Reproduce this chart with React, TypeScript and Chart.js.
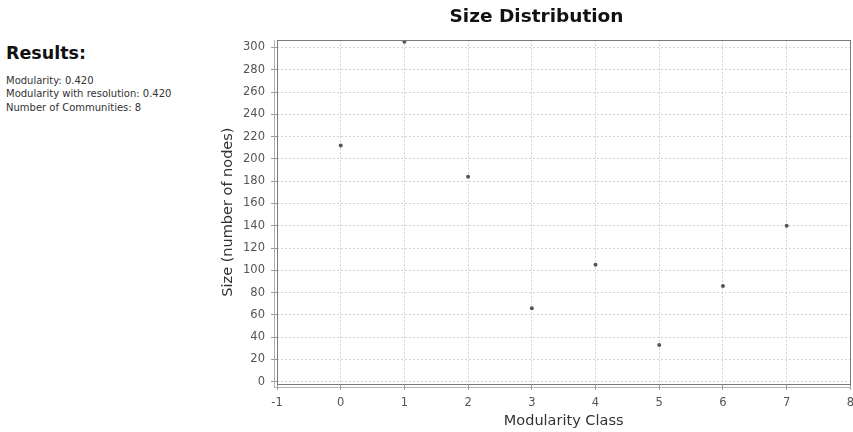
import React, { useEffect, useRef } from "react";
import { Chart, registerables } from "chart.js";

Chart.register(...registerables);

const modularityClasses = [0, 1, 2, 3, 4, 5, 6, 7];
const communitySizes = [212, 305, 184, 66, 105, 33, 86, 140];
const xTickValues = [-1, 0, 1, 2, 3, 4, 5, 6, 7, 8];
const yTickValues = [0, 20, 40, 60, 80, 100, 120, 140, 160, 180, 200, 220, 240, 260, 280, 300];
const resultLines = [
  "Modularity: 0.420",
  "Modularity with resolution: 0.420",
  "Number of Communities: 8",
];

const framePlugin = {
  id: "frame",
  afterDraw(chart: any) {
    const { ctx, chartArea } = chart;
    const { left, right, top, bottom } = chartArea;
    ctx.save();
    ctx.lineWidth = 1;
    ctx.strokeStyle = "#7a7a7a";
    ctx.strokeRect(Math.round(left) + 0.5, Math.round(top) + 0.5, Math.round(right - left), Math.round(bottom - top));
    ctx.strokeStyle = "#b0b0b0";
    ctx.beginPath();
    ctx.moveTo(Math.round(left) - 2.5, Math.round(top));
    ctx.lineTo(Math.round(left) - 2.5, Math.round(bottom) + 3);
    ctx.moveTo(Math.round(left) - 3, Math.round(bottom) + 3.5);
    ctx.lineTo(Math.round(right) + 1, Math.round(bottom) + 3.5);
    ctx.stroke();
    ctx.restore();
  },
};

export default function App() {
  const canvasRef = useRef<HTMLCanvasElement | null>(null);

  useEffect(() => {
    if (!canvasRef.current) return;
    const chart = new Chart(canvasRef.current, {
      type: "scatter",
      data: {
        datasets: [
          {
            label: "Size",
            data: modularityClasses.map((c, i) => ({ x: c, y: communitySizes[i] })),
            backgroundColor: "#555555",
            borderColor: "#555555",
            pointRadius: 2,
            pointBorderWidth: 0,
          },
        ],
      },
      options: {
        animation: false,
        responsive: false,
        maintainAspectRatio: false,
        layout: { padding: { left: 0, right: 0, top: 0, bottom: 0 } },
        plugins: {
          legend: { display: false },
          tooltip: { enabled: false },
          title: {
            display: true,
            text: "Size Distribution",
            color: "#111111",
            font: { family: "'DejaVu Sans', sans-serif", size: 18.5, weight: "bold" },
            padding: { top: 6, bottom: 12 },
          },
        },
        scales: {
          x: {
            type: "linear",
            min: -1,
            max: 8,
            afterBuildTicks: (scale: any) => {
              scale.ticks = xTickValues.map((v) => ({ value: v }));
            },
            afterFit: (scale: any) => {
              scale.height = 48;
            },
            ticks: {
              color: "#555555",
              font: { family: "'DejaVu Sans', sans-serif", size: 11.5 },
              padding: 6,
              maxRotation: 0,
            },
            grid: {
              color: "#d2d2d2",
              tickColor: "#999999",
              tickLength: 6,
              lineWidth: 1,
            },
            border: { display: false, dash: [2, 2] },
            title: {
              display: true,
              text: "Modularity Class",
              color: "#333333",
              font: { family: "'DejaVu Sans', sans-serif", size: 14.5 },
              padding: { top: 2, bottom: 2 },
            },
          },
          y: {
            type: "linear",
            min: -2,
            max: 306.5,
            afterBuildTicks: (scale: any) => {
              scale.ticks = yTickValues.map((v) => ({ value: v }));
            },
            afterFit: (scale: any) => {
              scale.width = 64;
            },
            ticks: {
              color: "#555555",
              font: { family: "'DejaVu Sans', sans-serif", size: 11.5 },
              padding: 6,
            },
            grid: {
              color: "#d2d2d2",
              tickColor: "#999999",
              tickLength: 6,
              lineWidth: 1,
            },
            border: { display: false, dash: [2, 2] },
            title: {
              display: true,
              text: "Size (number of nodes)",
              color: "#333333",
              font: { family: "'DejaVu Sans', sans-serif", size: 14.5 },
              padding: { top: 7, bottom: 0 },
            },
          },
        },
      },
      plugins: [framePlugin],
    } as any);
    return () => chart.destroy();
  }, []);

  return (
    <div
      style={{
        position: "fixed",
        left: 0,
        top: 0,
        width: 853,
        height: 432,
        overflow: "hidden",
        background: "#ffffff",
      }}
    >
      <div
        style={{
          position: "absolute",
          left: 6,
          top: 44,
          fontFamily: "'DejaVu Sans', sans-serif",
          fontWeight: "bold",
          fontSize: 17.5,
          lineHeight: "19px",
          color: "#111111",
          whiteSpace: "nowrap",
        }}
      >
        Results:
      </div>
      {resultLines.map((line, i) => (
        <div
          key={i}
          style={{
            position: "absolute",
            left: 6,
            top: 75 + i * 13.3,
            fontFamily: "'DejaVu Sans', sans-serif",
            fontSize: 10,
            lineHeight: "12px",
            color: "#333333",
            whiteSpace: "nowrap",
          }}
        >
          {line}
        </div>
      ))}
      <canvas
        ref={canvasRef}
        width={647}
        height={432}
        style={{ position: "absolute", left: 213, top: 0, width: 647, height: 432 }}
      />
    </div>
  );
}
